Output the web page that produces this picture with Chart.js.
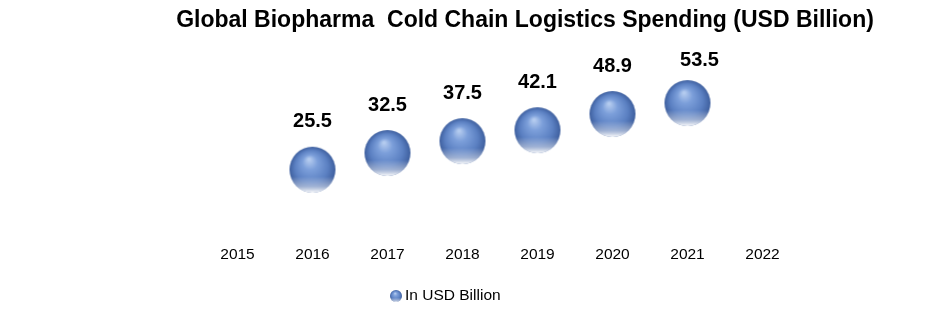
<!DOCTYPE html>
<html>
<head>
<meta charset="utf-8">
<script src="https://cdn.jsdelivr.net/npm/chart.js@4.4.1/dist/chart.umd.min.js"></script>
<style>
  html, body { margin: 0; padding: 0; background: #fff; }
  #wrap { width: 941px; height: 314px; }
</style>
</head>
<body>
<div id="wrap"><canvas id="chart" width="941" height="314"></canvas></div>
<script>
// данные
const years = ['2015', '2016', '2017', '2018', '2019', '2020', '2021', '2022'];
const spending = [null, 25.5, 32.5, 37.5, 42.1, 48.9, 53.5, null];
const seriesName = 'In USD Billion';
const chartTitle = 'Global Biopharma  Cold Chain Logistics Spending (USD Billion)';

// шарик для точек
function makeSphere(r) {
    const c = document.createElement('canvas');
    c.width = r * 2 + 2;
    c.height = r * 2 + 2;
    const g = c.getContext('2d');
    const cx = r + 1, cy = r + 1;
    const rad = g.createRadialGradient(cx - r * 0.15, cy - r * 0.45, r * 0.04, cx, cy, r);
    rad.addColorStop(0, '#b4cbef');
    rad.addColorStop(0.3, '#7c9fda');
    rad.addColorStop(0.7, '#5b80c2');
    rad.addColorStop(1, '#3e5f9e');
    g.beginPath();
    g.arc(cx, cy, r, 0, Math.PI * 2);
    g.fillStyle = rad;
    g.fill();
    g.save();
    g.clip();
    const lin = g.createLinearGradient(0, cy + r * 0.3, 0, cy + r);
    lin.addColorStop(0, 'rgba(240,242,248,0)');
    lin.addColorStop(0.6, 'rgba(225,230,240,0.55)');
    lin.addColorStop(1, 'rgba(255,255,255,1)');
    g.fillStyle = lin;
    g.fillRect(0, cy + r * 0.3, c.width, r);
    g.restore();
    return c;
}

const bigSphere = makeSphere(23);
const smallSphere = makeSphere(6);

// подписи значений, заголовок и легенда
const decorations = {
    id: 'decorations',
    afterDatasetsDraw(chart) {
        const ctx = chart.ctx;
        const meta = chart.getDatasetMeta(0);
        ctx.save();
        ctx.fillStyle = '#000';
        ctx.textAlign = 'center';
        ctx.textBaseline = 'middle';
        ctx.font = 'bold 20px "Liberation Sans", Arial, sans-serif';
        meta.data.forEach((pt, i) => {
            const v = spending[i];
            if (v === null || pt.skip) return;
            const dx = i === 6 ? 12 : 0;
            const dy = i === 6 ? 43 : 48;
            ctx.fillText(v.toFixed(1), pt.x + dx, pt.y - dy);
        });

        // заголовок
        ctx.font = 'bold 23px "Liberation Sans", Arial, sans-serif';
        ctx.fillText(chartTitle, 525, 21);

        // легенда
        ctx.font = '15.5px "Liberation Sans", Arial, sans-serif';
        ctx.textAlign = 'left';
        ctx.drawImage(smallSphere, 396 - 7, 296 - 7);
        ctx.fillText(seriesName, 405, 296);
        ctx.restore();
    }
};

const chart = new Chart(document.getElementById('chart').getContext('2d'), {
    type: 'line',
    data: {
        labels: years,
        datasets: [{
            label: seriesName,
            data: spending,
            showLine: false,
            pointStyle: bigSphere,
            pointRadius: 23,
            pointHoverRadius: 23,
            clip: false
        }]
    },
    options: {
        responsive: false,
        animation: false,
        layout: { padding: { top: 40, bottom: 35, left: 200, right: 141 } },
        plugins: {
            legend: { display: false },
            title: { display: false },
            tooltip: { enabled: false }
        },
        scales: {
            x: {
                offset: true,
                grid: { display: false, drawTicks: false },
                border: { display: false },
                ticks: {
                    color: '#000',
                    padding: 15,
                    font: { family: '"Liberation Sans", Arial, sans-serif', size: 15.5 }
                }
            },
            y: {
                display: false,
                min: 0,
                max: 80
            }
        }
    },
    plugins: [decorations]
});
</script>
</body>
</html>
